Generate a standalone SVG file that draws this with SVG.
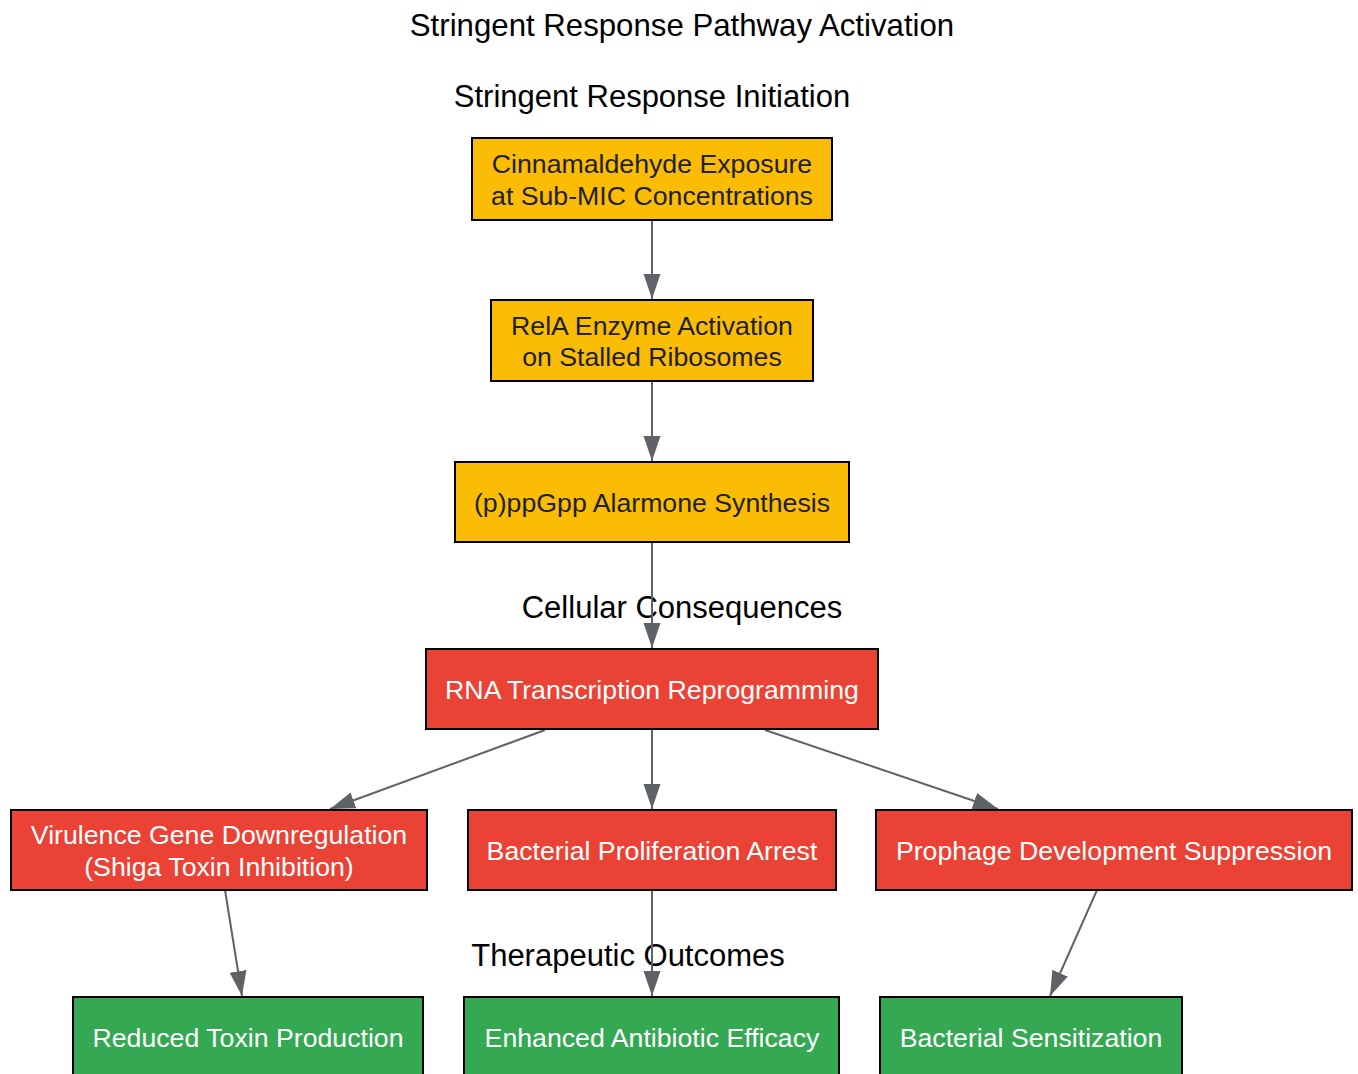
<svg xmlns="http://www.w3.org/2000/svg" width="1358" height="1074" viewBox="0 0 1358 1074">
<style>
text{font-family:"Liberation Sans",Arial,sans-serif;text-anchor:middle;dominant-baseline:central}
.title{font-size:31.2px;fill:#000}
.sg{font-size:31px;fill:#000}
.node rect{stroke:#000;stroke-width:2}
.y rect{fill:#FBBC05}.y text{fill:#202124}
.r rect{fill:#EA4335}.r text{fill:#fff}
.g rect{fill:#34A853}.g text{fill:#fff}
.node text{font-size:26.7px}
.edges line{stroke:#5F6368;stroke-width:2;marker-end:url(#ah)}
</style>
<defs>
<marker id="ah" markerUnits="userSpaceOnUse" markerWidth="26" markerHeight="18" refX="25" refY="8.5" orient="auto">
<path d="M0,0 L25,8.5 L0,17 z" fill="#5F6368"/>
</marker>
</defs>
<rect width="1358" height="1074" fill="#fff"/>
<text class="title" x="682" y="25">Stringent Response Pathway Activation</text>
<text class="sg" x="652" y="96">Stringent Response Initiation</text>
<text class="sg" x="682" y="607">Cellular Consequences</text>
<text class="sg" x="628" y="955">Therapeutic Outcomes</text>
<g class="edges">
<line x1="652" y1="220" x2="652" y2="299"/>
<line x1="652" y1="381" x2="652" y2="461"/>
<line x1="652" y1="542" x2="652" y2="648"/>
<line x1="545" y1="730" x2="330" y2="809"/>
<line x1="652" y1="729" x2="652" y2="809"/>
<line x1="765" y1="730" x2="998" y2="809"/>
<line x1="225" y1="890" x2="242" y2="996"/>
<line x1="652" y1="890" x2="652" y2="996"/>
<line x1="1097" y1="890" x2="1050" y2="996"/>
</g>
<g id="n1" class="node y"><rect x="472" y="138" width="360" height="82"/><text x="652" y="164">Cinnamaldehyde Exposure</text><text x="652" y="196">at Sub-MIC Concentrations</text></g>
<g id="n2" class="node y"><rect x="491" y="300" width="322" height="81"/><text x="652" y="326">RelA Enzyme Activation</text><text x="652" y="357">on Stalled Ribosomes</text></g>
<g id="n3" class="node y"><rect x="455" y="462" width="394" height="80"/><text x="652" y="503">(p)ppGpp Alarmone Synthesis</text></g>
<g id="n4" class="node r"><rect x="426" y="649" width="452" height="80"/><text x="652" y="690">RNA Transcription Reprogramming</text></g>
<g id="n5" class="node r"><rect x="11" y="810" width="416" height="80"/><text x="219" y="835">Virulence Gene Downregulation</text><text x="219" y="867">(Shiga Toxin Inhibition)</text></g>
<g id="n6" class="node r"><rect x="468" y="810" width="368" height="80"/><text x="652" y="851">Bacterial Proliferation Arrest</text></g>
<g id="n7" class="node r"><rect x="876" y="810" width="476" height="80"/><text x="1114" y="851">Prophage Development Suppression</text></g>
<g id="n8" class="node g"><rect x="73" y="997" width="350" height="82"/><text x="248" y="1038">Reduced Toxin Production</text></g>
<g id="n9" class="node g"><rect x="464" y="997" width="375" height="82"/><text x="652" y="1038">Enhanced Antibiotic Efficacy</text></g>
<g id="n10" class="node g"><rect x="880" y="997" width="302" height="82"/><text x="1031" y="1038">Bacterial Sensitization</text></g>
</svg>
